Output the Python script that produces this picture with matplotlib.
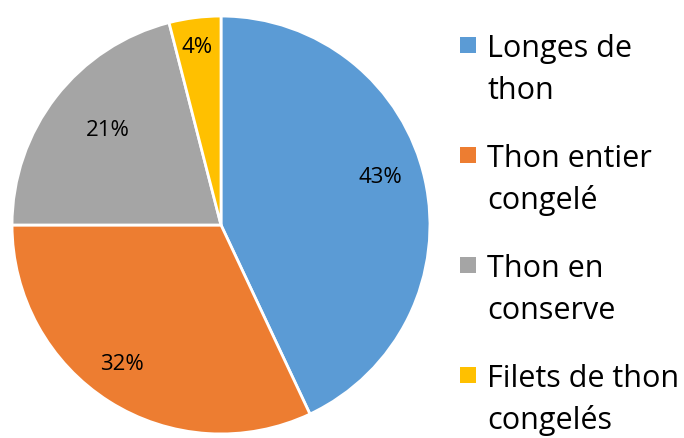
import matplotlib
matplotlib.use("Agg")
import numpy as np
from matplotlib import pyplot as plt
from matplotlib.patches import Rectangle

labels = ["Longes de\nthon", "Thon entier\ncongelé", "Thon en\nconserve", "Filets de thon\ncongelés"]
shares = [43, 32, 21, 4]
colors = ["#5B9BD5", "#ED7D31", "#A5A5A5", "#FFC000"]
# where Excel dropped each percent label (radius fraction, angle nudge in degrees)
label_radius = [0.795, 0.817, 0.703, 0.855]
label_nudge = [4.1, -2.9, -2.1, 0.5]

plt.rcParams["font.family"] = ["Open Sans", "DejaVu Sans"]

W, H = 684, 438
fig = plt.figure(figsize=(W / 100, H / 100), dpi=100)
ax = fig.add_axes([11 / W, 3 / H, 420 / W, 420 / H])

wedges, texts, autotexts = ax.pie(shares, colors=colors, startangle=90, counterclock=False,
                                  autopct="%1.0f%%", pctdistance=0.8,
                                  wedgeprops=dict(edgecolor="white", linewidth=2),
                                  textprops=dict(fontsize=16, color="black"))
ax.set_xlim(-1.005, 1.005)
ax.set_ylim(-1.005, 1.005)
ax.set_aspect("equal")

for w, t, r, d in zip(wedges, autotexts, label_radius, label_nudge):
    ang = np.deg2rad((w.theta1 + w.theta2) / 2 + d)
    t.set_position((r * np.cos(ang), r * np.sin(ang)))

# legend drawn by hand: square lined up with the first text line
for i, (lab, c) in enumerate(zip(labels, colors)):
    base = 57 + 110 * i
    fig.patches.append(Rectangle((460 / W, 1 - (base - 4) / H), 16 / W, 16 / H,
                                 transform=fig.transFigure, facecolor=c, edgecolor="none"))
    for j, line in enumerate(lab.split("\n")):
        fig.text(487 / W, 1 - (base + 42 * j) / H, line, fontsize=22,
                 color="black", va="baseline", ha="left")

plt.savefig("out.png", dpi=100)
